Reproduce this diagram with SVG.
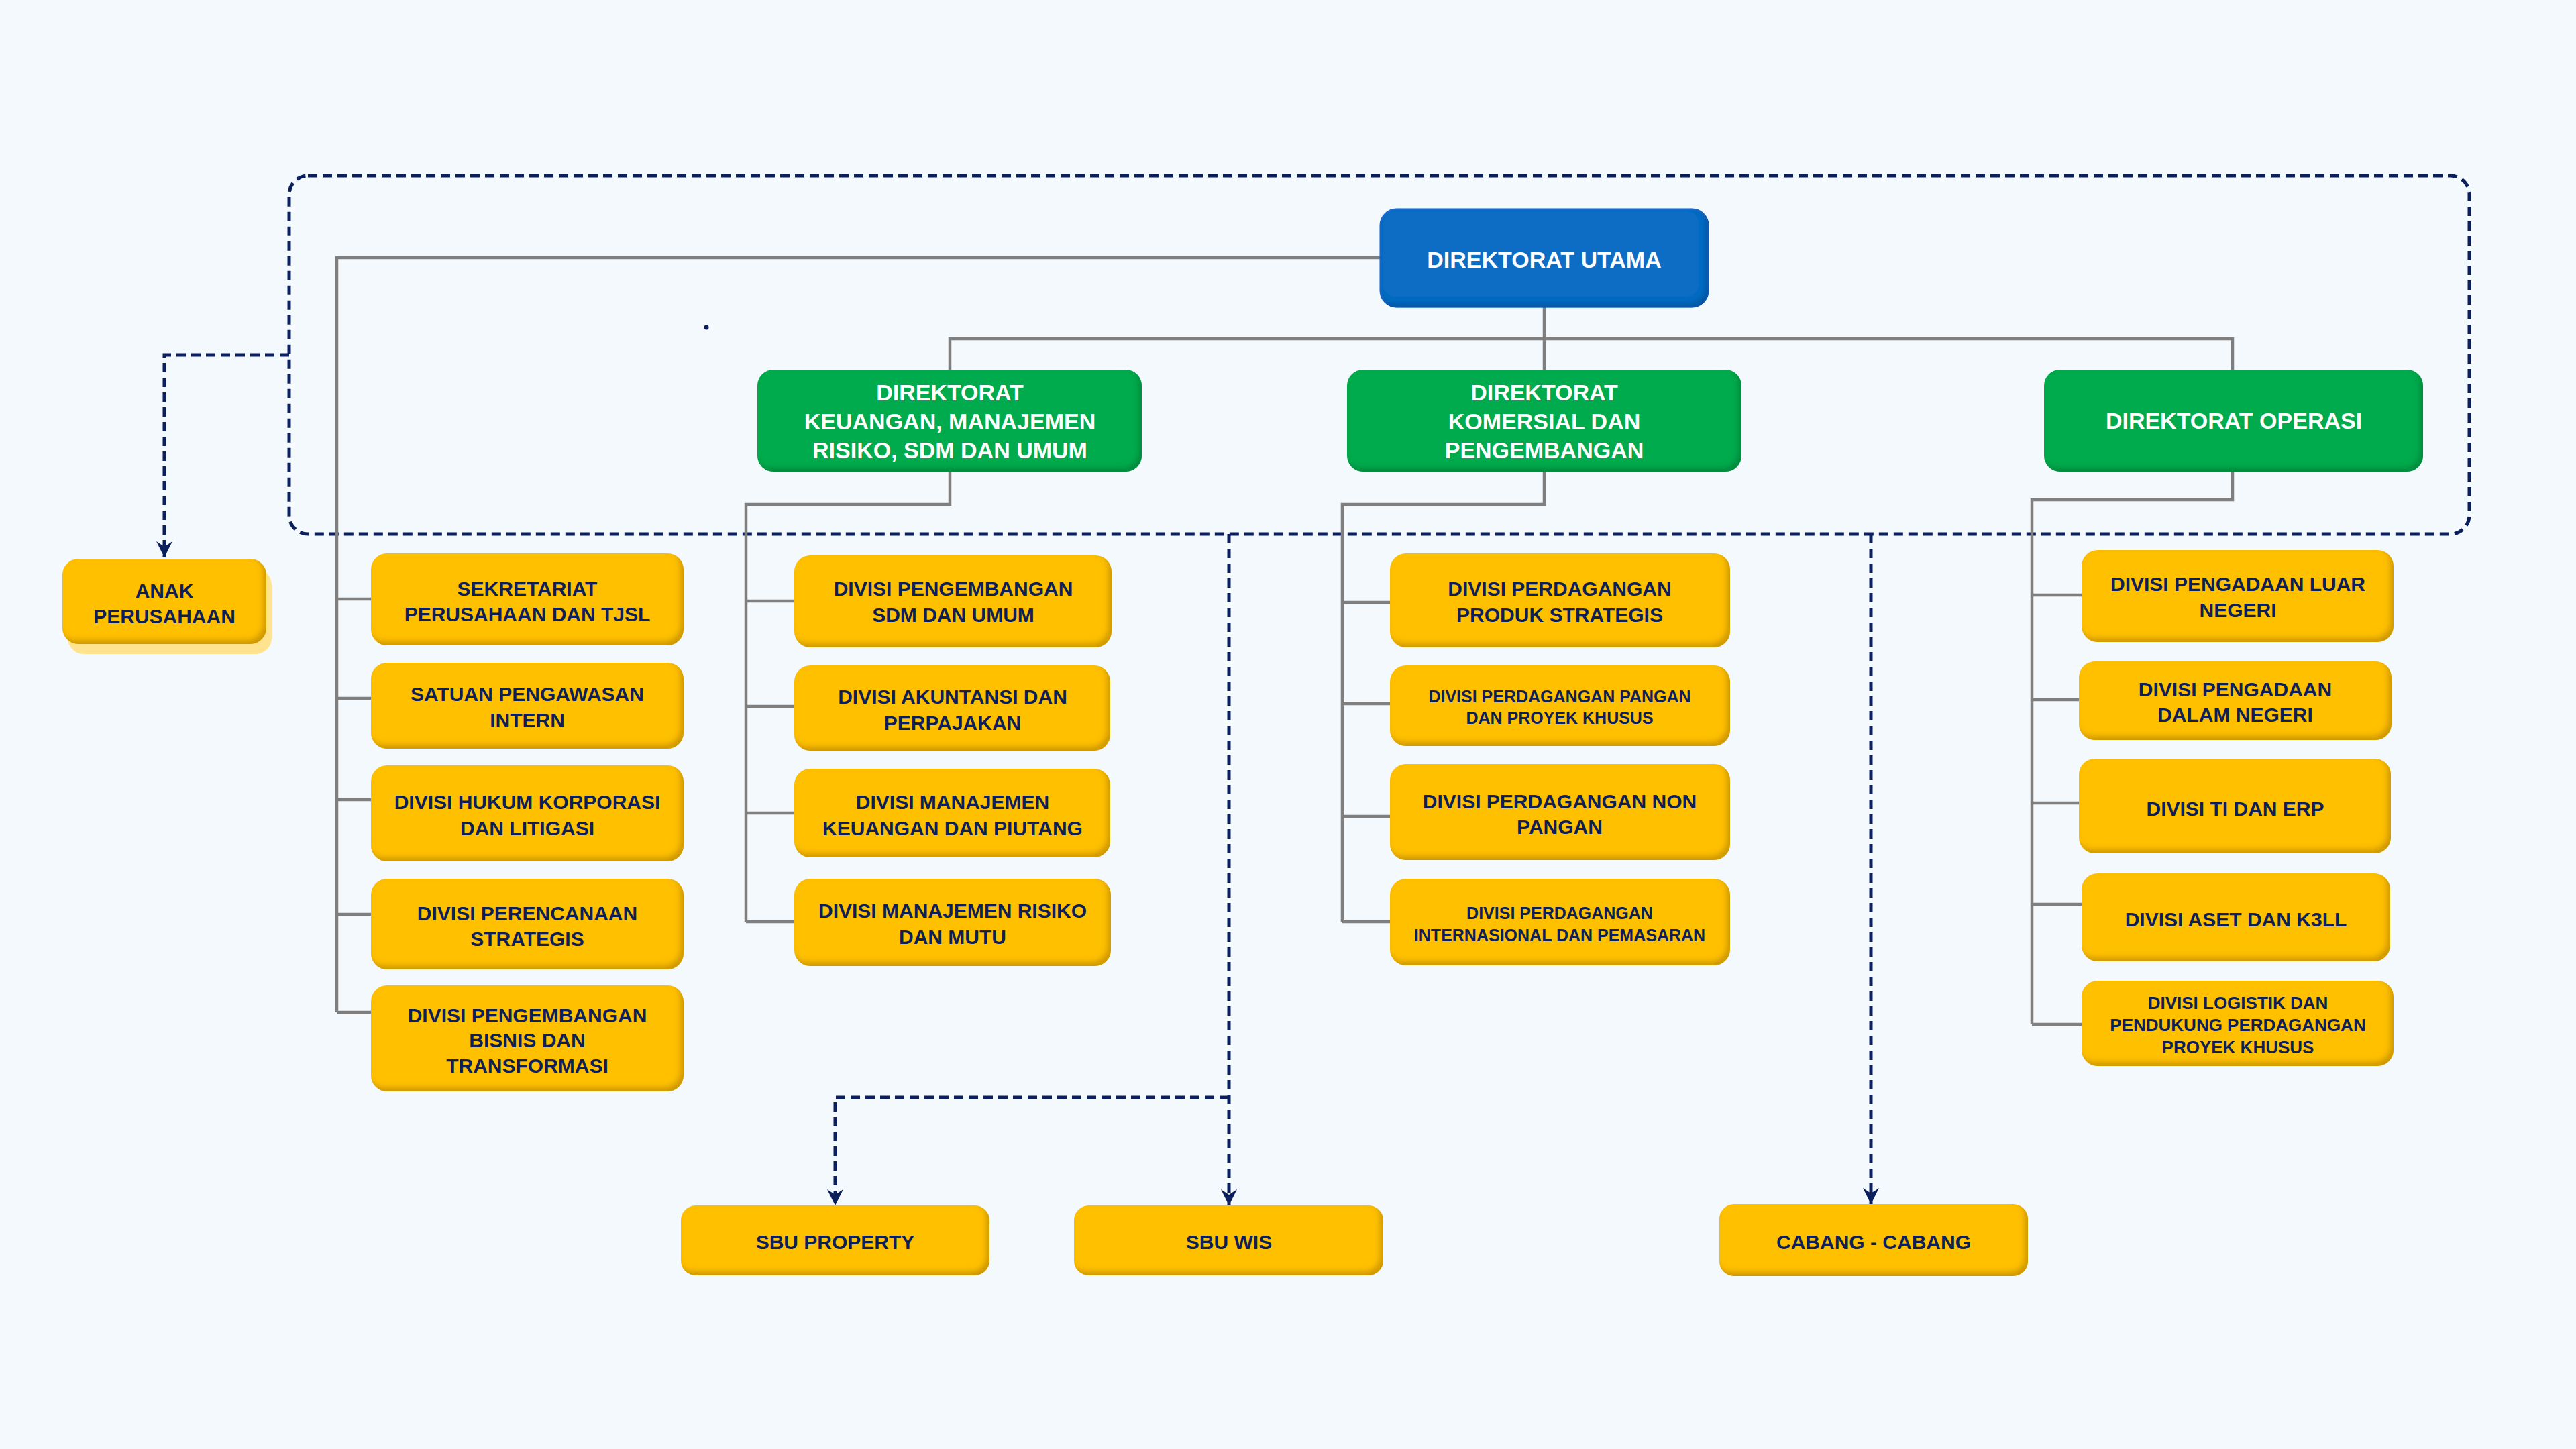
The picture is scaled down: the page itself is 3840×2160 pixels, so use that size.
<svg xmlns="http://www.w3.org/2000/svg" width="3840" height="2160" viewBox="0 0 3840 2160">
<defs>
<style>
.bg{fill:#F4F9FD}
.conn{stroke:#7F7F7F;stroke-width:4.5;fill:none}
.dash{stroke:#0B1F5C;stroke-width:5;fill:none;stroke-dasharray:14 8}
.yb{fill:#FFC000;filter:url(#inY)}
.gb{fill:#00AB4E;filter:url(#inG)}
.bb{fill:#0A6CC3;stroke:#1A6ACB;stroke-width:3;filter:url(#inB)}
.t{font-family:"Liberation Sans",Arial,sans-serif;font-weight:700;font-size:30px;fill:#0C1F5B;text-anchor:middle}
.s25{font-size:25px}
.s26{font-size:26px}
.w{font-family:"Liberation Sans",Arial,sans-serif;font-weight:700;font-size:34px;fill:#FFFFFF;text-anchor:middle}
</style>
<filter id="inY" x="-5%" y="-10%" width="110%" height="120%">
<feGaussianBlur in="SourceAlpha" stdDeviation="4" result="b"/>
<feOffset in="b" dx="-5" dy="-6" result="o"/>
<feComposite in="SourceAlpha" in2="o" operator="out" result="edge"/>
<feFlood flood-color="#B88600" flood-opacity="0.75"/>
<feComposite in2="edge" operator="in" result="sh"/>
<feMerge><feMergeNode in="SourceGraphic"/><feMergeNode in="sh"/></feMerge>
</filter>
<filter id="inG" x="-5%" y="-10%" width="110%" height="120%">
<feGaussianBlur in="SourceAlpha" stdDeviation="4" result="b"/>
<feOffset in="b" dx="-5" dy="-6" result="o"/>
<feComposite in="SourceAlpha" in2="o" operator="out" result="edge"/>
<feFlood flood-color="#046E32" flood-opacity="0.6"/>
<feComposite in2="edge" operator="in" result="sh"/>
<feMerge><feMergeNode in="SourceGraphic"/><feMergeNode in="sh"/></feMerge>
</filter>
<filter id="inB" x="-5%" y="-10%" width="110%" height="120%">
<feGaussianBlur in="SourceAlpha" stdDeviation="4" result="b"/>
<feOffset in="b" dx="-5" dy="-6" result="o"/>
<feComposite in="SourceAlpha" in2="o" operator="out" result="edge"/>
<feFlood flood-color="#063F80" flood-opacity="0.6"/>
<feComposite in2="edge" operator="in" result="sh"/>
<feMerge><feMergeNode in="SourceGraphic"/><feMergeNode in="sh"/></feMerge>
</filter>
<marker id="arr" viewBox="0 0 28 28" refX="26" refY="14" markerWidth="28" markerHeight="28" markerUnits="userSpaceOnUse" orient="auto">
<path d="M2,2 L26,14 L2,26 L10,14 Z" fill="#0B1F5C"/>
</marker>
</defs>
<rect class="bg" x="0" y="0" width="3840" height="2160"/>

<g id="connectors">
<rect class="dash" x="431" y="262" width="3250" height="534" rx="28"/>
<path class="dash" d="M431,529 H245 V831" marker-end="url(#arr)"/>
<path class="dash" d="M1832,796 V1797" marker-end="url(#arr)"/>
<path class="dash" d="M1832,1636 H1245 V1797" marker-end="url(#arr)"/>
<path class="dash" d="M2789,796 V1795" marker-end="url(#arr)"/>
<path class="conn" d="M2057,384 H502 V1509"/>
<path class="conn" d="M502,893 H553 M502,1041 H553 M502,1192 H553 M502,1363 H553 M502,1509 H553"/>
<path class="conn" d="M2302,458 V551 M1416,551 V505 H3328 V551"/>
<path class="conn" d="M1416,703 V752 H1112 V1374"/>
<path class="conn" d="M1112,896 H1184 M1112,1053 H1184 M1112,1212 H1184 M1112,1374 H1184"/>
<path class="conn" d="M2302,703 V752 H2001 V1374"/>
<path class="conn" d="M2001,898 H2072 M2001,1049 H2072 M2001,1217 H2072 M2001,1374 H2072"/>
<path class="conn" d="M3328,703 V745 H3029 V1527"/>
<path class="conn" d="M3029,887 H3103 M3029,1043 H3099 M3029,1197 H3099 M3029,1348 H3103 M3029,1527 H3103"/>
<circle cx="1053" cy="488" r="3.5" fill="#0B1F5C"/>
</g>

<g id="direktorat-utama">
<rect class="bb" x="2058" y="312" width="488" height="145" rx="24"/>
<text class="w" x="2302" y="399">DIREKTORAT UTAMA</text>
</g>

<g id="dir-keuangan">
<rect class="gb" x="1129" y="551" width="573" height="152" rx="24"/>
<text class="w" x="1416" y="597">DIREKTORAT</text>
<text class="w" x="1416" y="640">KEUANGAN, MANAJEMEN</text>
<text class="w" x="1416" y="683">RISIKO, SDM DAN UMUM</text>
</g>

<g id="dir-komersial">
<rect class="gb" x="2008" y="551" width="588" height="152" rx="24"/>
<text class="w" x="2302" y="597">DIREKTORAT</text>
<text class="w" x="2302" y="640">KOMERSIAL DAN</text>
<text class="w" x="2302" y="683">PENGEMBANGAN</text>
</g>

<g id="dir-operasi">
<rect class="gb" x="3047" y="551" width="565" height="152" rx="24"/>
<text class="w" x="3330" y="639">DIREKTORAT OPERASI</text>
</g>

<g id="anak-perusahaan">
<rect x="101" y="848" width="304" height="127" rx="24" fill="#FFE38F"/>
<rect class="yb" x="93" y="833" width="304" height="127" rx="24"/>
<text class="t" x="245" y="891">ANAK</text>
<text class="t" x="245" y="929">PERUSAHAAN</text>
</g>

<g id="sekretariat">
<rect class="yb" x="553" y="825" width="466" height="137" rx="24"/>
<text class="t" x="786" y="888">SEKRETARIAT</text>
<text class="t" x="786" y="926">PERUSAHAAN DAN TJSL</text>
</g>
<g id="spi">
<rect class="yb" x="553" y="988" width="466" height="128" rx="24"/>
<text class="t" x="786" y="1045">SATUAN PENGAWASAN</text>
<text class="t" x="786" y="1084">INTERN</text>
</g>
<g id="hukum">
<rect class="yb" x="553" y="1141" width="466" height="143" rx="24"/>
<text class="t" x="786" y="1206">DIVISI HUKUM KORPORASI</text>
<text class="t" x="786" y="1245">DAN LITIGASI</text>
</g>
<g id="perencanaan">
<rect class="yb" x="553" y="1310" width="466" height="135" rx="24"/>
<text class="t" x="786" y="1372">DIVISI PERENCANAAN</text>
<text class="t" x="786" y="1410">STRATEGIS</text>
</g>
<g id="bisnis">
<rect class="yb" x="553" y="1469" width="466" height="158" rx="24"/>
<text class="t" x="786" y="1524">DIVISI PENGEMBANGAN</text>
<text class="t" x="786" y="1561">BISNIS DAN</text>
<text class="t" x="786" y="1599">TRANSFORMASI</text>
</g>

<g id="sdm">
<rect class="yb" x="1184" y="828" width="473" height="137" rx="24"/>
<text class="t" x="1421" y="888">DIVISI PENGEMBANGAN</text>
<text class="t" x="1421" y="927">SDM DAN UMUM</text>
</g>
<g id="akuntansi">
<rect class="yb" x="1184" y="992" width="471" height="127" rx="24"/>
<text class="t" x="1420" y="1049">DIVISI AKUNTANSI DAN</text>
<text class="t" x="1420" y="1088">PERPAJAKAN</text>
</g>
<g id="keuangan-piutang">
<rect class="yb" x="1184" y="1146" width="471" height="132" rx="24"/>
<text class="t" x="1420" y="1206">DIVISI MANAJEMEN</text>
<text class="t" x="1420" y="1245">KEUANGAN DAN PIUTANG</text>
</g>
<g id="risiko">
<rect class="yb" x="1184" y="1310" width="472" height="130" rx="24"/>
<text class="t" x="1420" y="1368">DIVISI MANAJEMEN RISIKO</text>
<text class="t" x="1420" y="1407">DAN MUTU</text>
</g>

<g id="produk-strategis">
<rect class="yb" x="2072" y="825" width="507" height="140" rx="24"/>
<text class="t" x="2325" y="888">DIVISI PERDAGANGAN</text>
<text class="t" x="2325" y="927">PRODUK STRATEGIS</text>
</g>
<g id="pangan">
<rect class="yb" x="2072" y="992" width="507" height="120" rx="24"/>
<text class="t s25" x="2325" y="1047">DIVISI PERDAGANGAN PANGAN</text>
<text class="t s25" x="2325" y="1079">DAN PROYEK KHUSUS</text>
</g>
<g id="non-pangan">
<rect class="yb" x="2072" y="1139" width="507" height="143" rx="24"/>
<text class="t" x="2325" y="1205">DIVISI PERDAGANGAN NON</text>
<text class="t" x="2325" y="1243">PANGAN</text>
</g>
<g id="internasional">
<rect class="yb" x="2072" y="1310" width="507" height="129" rx="24"/>
<text class="t s25" x="2325" y="1370">DIVISI PERDAGANGAN</text>
<text class="t s25" x="2325" y="1403">INTERNASIONAL DAN PEMASARAN</text>
</g>

<g id="pengadaan-ln">
<rect class="yb" x="3103" y="820" width="465" height="137" rx="24"/>
<text class="t" x="3336" y="881">DIVISI PENGADAAN LUAR</text>
<text class="t" x="3336" y="920">NEGERI</text>
</g>
<g id="pengadaan-dn">
<rect class="yb" x="3099" y="986" width="466" height="117" rx="24"/>
<text class="t" x="3332" y="1038">DIVISI PENGADAAN</text>
<text class="t" x="3332" y="1076">DALAM NEGERI</text>
</g>
<g id="ti-erp">
<rect class="yb" x="3099" y="1131" width="465" height="141" rx="24"/>
<text class="t" x="3332" y="1216">DIVISI TI DAN ERP</text>
</g>
<g id="aset">
<rect class="yb" x="3103" y="1302" width="460" height="131" rx="24"/>
<text class="t" x="3333" y="1381">DIVISI ASET DAN K3LL</text>
</g>
<g id="logistik">
<rect class="yb" x="3103" y="1462" width="465" height="127" rx="24"/>
<text class="t s26" x="3336" y="1504">DIVISI LOGISTIK DAN</text>
<text class="t s26" x="3336" y="1537">PENDUKUNG PERDAGANGAN</text>
<text class="t s26" x="3336" y="1570">PROYEK KHUSUS</text>
</g>

<g id="sbu-property">
<rect class="yb" x="1015" y="1797" width="460" height="104" rx="22"/>
<text class="t" x="1245" y="1862">SBU PROPERTY</text>
</g>
<g id="sbu-wis">
<rect class="yb" x="1601" y="1797" width="461" height="104" rx="22"/>
<text class="t" x="1832" y="1862">SBU WIS</text>
</g>
<g id="cabang">
<rect class="yb" x="2563" y="1795" width="460" height="107" rx="22"/>
<text class="t" x="2793" y="1862">CABANG - CABANG</text>
</g>
</svg>
